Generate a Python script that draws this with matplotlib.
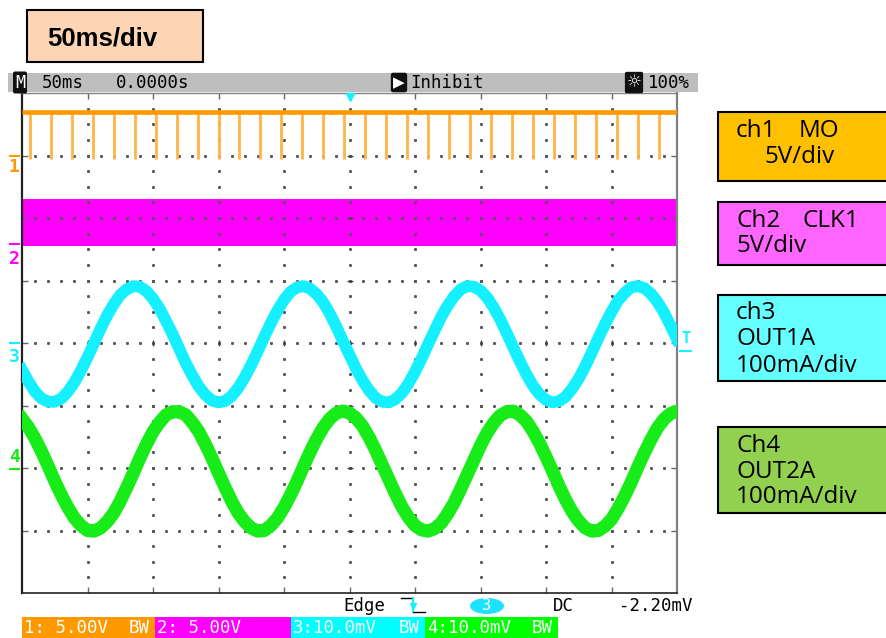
import numpy as np
import matplotlib.pyplot as plt
from matplotlib.patches import Rectangle, Ellipse
from matplotlib.lines import Line2D

W, H = 886, 638

# screen: 10 horizontal divisions (50 ms/div), 8 vertical divisions
t_div = np.linspace(0, 10, 101)  # sample grid, 0.1 div = 5 ms

# ch3 OUT1A trace (divisions)
ch3_out1a = [-0.43, -0.62, -0.78, -0.89, -0.94, -0.94, -0.89, -0.78, -0.63, -0.44,
             -0.23, 0.00, 0.23, 0.44, 0.62, 0.77, 0.86, 0.91, 0.90, 0.83,
             0.71, 0.55, 0.35, 0.14, -0.09, -0.32, -0.52, -0.70, -0.83, -0.92,
             -0.95, -0.93, -0.85, -0.72, -0.55, -0.35, -0.13, 0.10, 0.32, 0.52,
             0.69, 0.82, 0.89, 0.91, 0.87, 0.78, 0.65, 0.47, 0.26, 0.03,
             -0.19, -0.41, -0.60, -0.76, -0.88, -0.94, -0.95, -0.90, -0.80, -0.65,
             -0.46, -0.25, -0.02, 0.20, 0.42, 0.60, 0.75, 0.86, 0.91, 0.90,
             0.84, 0.73, 0.57, 0.38, 0.16, -0.07, -0.29, -0.50, -0.68, -0.82,
             -0.91, -0.95, -0.93, -0.86, -0.73, -0.57, -0.37, -0.15, 0.08, 0.30,
             0.50, 0.68, 0.80, 0.89, 0.91, 0.88, 0.79, 0.66, 0.49, 0.28,
             0.06]

# ch4 OUT2A trace (divisions)
ch4_out2a = [-1.21, -1.35, -1.53, -1.74, -1.97, -2.21, -2.43, -2.63, -2.80, -2.92,
             -3.00, -3.01, -2.96, -2.86, -2.72, -2.53, -2.31, -2.08, -1.84, -1.62,
             -1.42, -1.27, -1.15, -1.10, -1.10, -1.15, -1.27, -1.42, -1.62, -1.84,
             -2.08, -2.31, -2.53, -2.72, -2.86, -2.96, -3.01, -3.00, -2.92, -2.80,
             -2.63, -2.43, -2.21, -1.97, -1.74, -1.53, -1.35, -1.21, -1.12, -1.09,
             -1.12, -1.20, -1.33, -1.51, -1.72, -1.95, -2.18, -2.41, -2.62, -2.79,
             -2.92, -2.99, -3.01, -2.97, -2.88, -2.73, -2.55, -2.33, -2.10, -1.87,
             -1.64, -1.44, -1.28, -1.16, -1.10, -1.09, -1.15, -1.25, -1.41, -1.60,
             -1.82, -2.05, -2.29, -2.51, -2.70, -2.85, -2.96, -3.01, -3.00, -2.93,
             -2.82, -2.65, -2.45, -2.23, -1.99, -1.76, -1.55, -1.36, -1.22, -1.13,
             -1.09]

# ch1 MO: high level with short low pulses
ch1_pulses = [0.12, 0.44, 0.76, 1.08, 1.40, 1.72, 2.04, 2.36, 2.68, 3.00,
              3.32, 3.64, 3.96, 4.28, 4.60, 4.92, 5.24, 5.56, 5.88, 6.20,
              6.52, 6.84, 7.16, 7.48, 7.80, 8.12, 8.44, 8.76, 9.08, 9.40, 9.72]
ch1_high, ch1_low = 3.70, 2.95

# ch2 CLK1: fast clock, shows as a solid band
ch2_low, ch2_high = 1.56, 2.30

ground_levels = [3.0, 1.58, 0.0, -2.02]
ch_names = ['1', '2', '3', '4']
ch_colors = ['#ff9900', '#ff00ff', '#14f0ff', '#18ec18']

side_boxes = [
    (112, 181, '#ffc000', [(736, 137, 'ch1'), (799, 137, 'MO'), (765, 163, '5V/div')]),
    (202, 265, '#ff66ff', [(736, 227, 'Ch2'), (802, 227, 'CLK1'), (736, 252, '5V/div')]),
    (295, 381, '#66ffff', [(736, 319, 'ch3'), (736, 345, 'OUT1A'), (736, 372, '100mA/div')]),
    (427, 513, '#92d050', [(736, 452, 'Ch4'), (736, 478, 'OUT2A'), (736, 503, '100mA/div')]),
]

bottom_bar = [
    (22, 155, '#ff9900', '1: 5.00V', 'BW'),
    (155, 291, '#ff00ff', '2: 5.00V', ''),
    (291, 425, '#00ffff', '3:10.0mV', 'BW'),
    (425, 558, '#00ff00', '4:10.0mV', 'BW'),
]


def fx(px):
    return px / W


def fy(py):
    return 1 - py / H


def box(x0, y0, x1, y1, **kw):
    fig.patches.append(Rectangle((fx(x0), fy(y1)), (x1 - x0) / W, (y1 - y0) / H,
                                 transform=fig.transFigure, **kw))


mono = 'DejaVu Sans Mono'

fig = plt.figure(figsize=(8.86, 6.38), dpi=100)
ax = fig.add_axes([fx(22), fy(593), 655 / W, 500 / H])
ax.set_xlim(0, 10)
ax.set_ylim(-4, 4)

# dotted graticule
for yv in range(-3, 4):
    xs = np.arange(0.2, 10, 0.2)
    ax.plot(xs, np.full_like(xs, yv), ls='', marker='s', ms=1.1, color='#555555', zorder=2)
for xv in range(1, 10):
    ys = np.arange(-3.75, 4, 0.25)
    ax.plot(np.full_like(ys, xv), ys, ls='', marker='s', ms=1.1, color='#555555', zorder=2)
ax.plot(range(1, 10), [0] * 9, ls='', marker='|', ms=5, mew=1, color='#444444', zorder=2)
ax.plot([5] * 7, range(-3, 4), ls='', marker='_', ms=5, mew=1, color='#444444', zorder=2)

ax.set_xticks(range(1, 10))
ax.set_yticks(range(-3, 4))
ax.tick_params(direction='in', length=4, width=1, color='#666666',
               top=True, right=True, labelleft=False, labelbottom=False)
for side, c, lw in [('left', '#222222', 1.6), ('bottom', '#222222', 1.2),
                    ('right', '#808080', 1.6), ('top', '#808080', 1.0)]:
    ax.spines[side].set_color(c)
    ax.spines[side].set_linewidth(lw)

# ch2 clock band
ax.fill_between([t_div[0], t_div[-1]], ch2_low, ch2_high, color=ch_colors[1], lw=0, zorder=1)

# ch1 pulses
ax.vlines(ch1_pulses, ch1_low, ch1_high, color='#ffb444', lw=2, zorder=3)
ax.plot([t_div[0], t_div[-1]], [ch1_high, ch1_high], color=ch_colors[0], lw=3.3,
        solid_capstyle='butt', zorder=4)

# ch3 / ch4 sine currents
ax.plot(t_div, ch3_out1a, color=ch_colors[2], lw=8.5, solid_joinstyle='round', zorder=5)
ax.plot(t_div, ch4_out2a, color=ch_colors[3], lw=9.5, solid_joinstyle='round', zorder=5)

# channel ground markers on the left
digit_offset = [-0.19, -0.23, -0.23, 0.2]
for lvl, name, col, off in zip(ground_levels, ch_names, ch_colors, digit_offset):
    ax.plot([-0.19, -0.04], [lvl, lvl], color=col, lw=1.5, clip_on=False)
    ax.text(-0.12, lvl + off, name, color=col, ha='center', va='center',
            family=mono, fontweight='bold', fontsize=13, clip_on=False)

# trigger markers
ax.plot([5], [3.93], marker='v', ms=6, color=ch_colors[2], clip_on=False, zorder=6)
ax.text(10.13, 0.07, 'T', color=ch_colors[2], ha='center', va='center',
        family=mono, fontweight='bold', fontsize=11, clip_on=False)
ax.plot([10.05, 10.21], [-0.13, -0.13], color=ch_colors[2], lw=1.5, clip_on=False)

# title box
box(27, 10, 203, 62, facecolor='#fbd5b5', edgecolor='black', lw=1.5)
fig.text(fx(47), fy(45), '50ms/div', fontsize=18.5, fontweight='bold',
         family='Liberation Sans', va='baseline')

# status bar
box(8, 73, 698, 92, facecolor='#bebebe', edgecolor='none')
fig.text(fx(20), fy(82.5), 'M', color='white', ha='center', va='center', family=mono,
         fontsize=12, bbox=dict(boxstyle='round,pad=0.12', fc='#111111', ec='none'))
fig.text(fx(42), fy(82.5), '50ms', family=mono, fontsize=12.5, va='center')
fig.text(fx(116), fy(82.5), '0.0000s', family=mono, fontsize=12.5, va='center')
fig.text(fx(399), fy(82.5), '\u25b6', color='white', ha='center', va='center', family='DejaVu Sans',
         fontsize=11, bbox=dict(boxstyle='round,pad=0.15', fc='#111111', ec='none'))
fig.text(fx(410), fy(82.5), 'Inhibit', family=mono, fontsize=12.5, va='center')
fig.text(fx(634), fy(82.5), '\u263c', color='white', ha='center', va='center', family='DejaVu Sans',
         fontsize=12, bbox=dict(boxstyle='round,pad=0.1', fc='#111111', ec='none'))
fig.text(fx(648), fy(82.5), '100%', family=mono, fontsize=12.5, va='center')

# trigger info row
fig.text(fx(343), fy(606), 'Edge', family=mono, fontsize=12.5, va='center')
for (xa, ya), (xb, yb) in [((401, 598), (413, 598)), ((413, 612), (425, 612))]:
    fig.lines.append(Line2D([fx(xa), fx(xb)], [fy(ya), fy(yb)], color='black', lw=1,
                            transform=fig.transFigure))
fig.lines.append(Line2D([fx(413), fx(413)], [fy(598), fy(611)], color=ch_colors[2], lw=1.5,
                        transform=fig.transFigure))
fig.lines.append(Line2D([fx(413)], [fy(606)], marker='v', ms=5, color=ch_colors[2],
                        transform=fig.transFigure))
fig.patches.append(Ellipse((fx(487), fy(606)), 34 / W, 16 / H, facecolor='#1ee0ff',
                           edgecolor='none', transform=fig.transFigure))
fig.text(fx(487), fy(606), '3', color='white', ha='center', va='center', family=mono, fontsize=11)
fig.text(fx(553), fy(606), 'DC', family=mono, fontsize=12.5, va='center')
fig.text(fx(692), fy(606), '-2.20mV', family=mono, fontsize=12.5, va='center', ha='right')

# channel settings bar
for x0, x1, col, label, bw in bottom_bar:
    box(x0, 617, x1, 638, facecolor=col, edgecolor='none')
    fig.text(fx(x0 + 2), fy(628), label, color='white', family=mono, fontsize=12.5, va='center')
    if bw:
        fig.text(fx(x1 - 5), fy(628), bw, color='white', family=mono, fontsize=12.5,
                 va='center', ha='right')

# channel description boxes
for y0, y1, col, lines in side_boxes:
    box(718, y0, 892, y1, facecolor=col, edgecolor='black', lw=1.5)
    for x, y, s in lines:
        fig.text(fx(x), fy(y), s, family='Open Sans', fontsize=17.5, va='baseline')

fig.savefig('out.png', dpi=100)
